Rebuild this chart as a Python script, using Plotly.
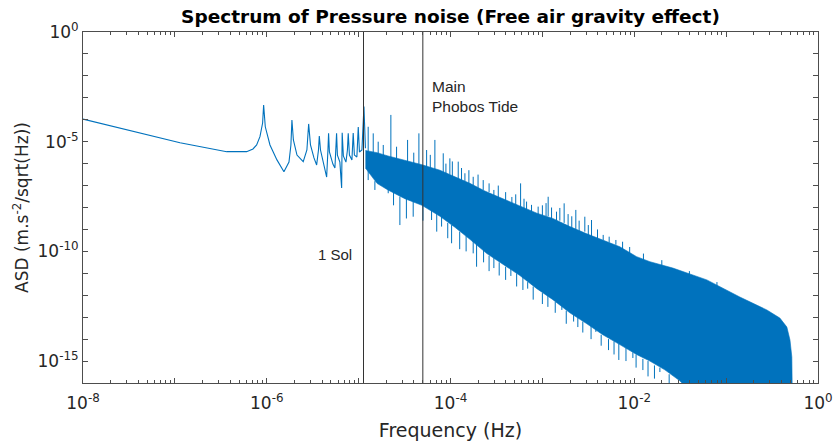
import numpy as np
import plotly.graph_objects as go

# Reference frequencies (Hz)
sol_freq = 1.13e-5
phobos_freq = 5.0e-5

# Low-frequency part of the spectrum (log10 Hz, log10 ASD)
lf_log_f = [-8.0, -7.489, -6.944, -6.436, -6.219, -6.150, -6.110, -6.074, -6.045, -6.034,
            -6.016, -5.965, -5.889, -5.813, -5.758, -5.737, -5.726, -5.710, -5.671, -5.603,
            -5.563, -5.544, -5.524, -5.486, -5.457, -5.437, -5.428, -5.415, -5.378, -5.348,
            -5.334, -5.327, -5.318, -5.280, -5.258, -5.247, -5.240, -5.231, -5.204, -5.185,
            -5.179, -5.166, -5.138, -5.122, -5.113, -5.100, -5.073, -5.059, -5.046, -5.019,
            -5.004, -4.991, -4.964, -4.942, -4.926]
lf_log_asd = [-3.97, -4.50, -5.05, -5.455, -5.455, -5.33, -5.15, -4.77, -4.15, -3.33,
              -4.32, -5.15, -5.83, -6.37, -5.93, -5.15, -4.01, -4.92, -5.61, -5.91,
              -5.38, -4.19, -5.15, -5.74, -6.06, -5.38, -4.74, -5.38, -6.06, -6.61,
              -5.38, -4.62, -5.47, -6.02, -6.20, -5.38, -4.62, -5.61, -5.93, -7.11,
              -4.59, -5.65, -5.93, -5.38, -4.62, -5.61, -5.83, -4.60, -5.61, -5.70,
              -4.33, -5.47, -5.38, -3.40, -5.30]

# Noise band core envelope (log10 Hz, log10 ASD)
band_log_f_up = [-4.926, -4.800, -4.681, -4.496, -4.311, -4.115, -3.952, -3.789, -3.626, -3.430,
                 -3.245, -3.060, -2.886, -2.701, -2.516, -2.342, -2.157, -1.975, -1.830, -1.580,
                 -1.210, -0.851, -0.557, -0.415, -0.339, -0.305, -0.285, -0.280]
band_up = [-5.40, -5.50, -5.65, -5.85, -6.05, -6.30, -6.60, -6.90, -7.25, -7.60,
           -7.95, -8.26, -8.50, -8.87, -9.20, -9.48, -9.79, -10.24, -10.47, -10.76,
           -11.30, -12.08, -12.67, -13.04, -13.45, -14.04, -14.81, -16.5]
band_log_f_lo = [-4.926, -4.800, -4.681, -4.496, -4.311, -4.115, -3.952, -3.789, -3.604, -3.430,
                 -3.245, -3.060, -2.886, -2.701, -2.516, -2.342, -2.157, -1.975, -1.830, -1.667,
                 -1.504, -1.362, -0.280]
band_lo = [-6.20, -6.90, -7.20, -7.60, -7.90, -8.40, -8.90, -9.45, -10.10, -10.60,
           -11.10, -11.70, -12.20, -12.80, -13.30, -13.80, -14.25, -14.70, -15.00, -15.40,
           -15.90, -16.5, -16.5]

# Upward spikes (log10 Hz, tip, base)
up_spk_log_f = [-4.896, -4.841, -4.787, -4.732, -4.649, -4.587, -4.467, -4.400, -4.344, -4.260,
                -4.220, -4.170, -4.079, -4.050, -4.007, -3.980, -3.916, -3.880, -3.843, -3.800,
                -3.753, -3.700, -3.644, -3.580, -3.528, -3.480, -3.400, -3.332, -3.290, -3.237,
                -3.200, -3.172, -3.118, -3.046, -3.000, -2.960, -2.937, -2.900, -2.846, -2.810,
                -2.763, -2.720, -2.680, -2.636, -2.600, -2.538, -2.500, -2.465, -2.400, -2.338,
                -2.273, -2.200, -2.127, -2.050, -1.900, -1.700, -1.400, -1.100]
up_spk_tip = [-4.32, -4.62, -5.00, -5.15, -3.78, -5.23, -4.92, -5.50, -4.62, -5.38,
              -5.60, -4.92, -5.53, -6.00, -5.76, -5.90, -5.91, -6.20, -6.44, -6.30,
              -6.60, -6.50, -6.75, -6.90, -7.20, -7.00, -7.30, -7.52, -7.40, -6.90,
              -7.60, -7.73, -7.88, -7.96, -7.90, -7.80, -7.51, -8.00, -8.19, -8.02,
              -7.81, -8.30, -8.40, -8.11, -8.60, -8.42, -8.80, -8.57, -9.00, -9.25,
              -9.33, -9.48, -9.56, -9.80, -10.10, -10.40, -10.90, -11.40]
up_spk_base = [-5.5, -5.5, -5.6, -5.7, -5.8, -5.9, -6.0, -6.0, -6.1, -6.2,
               -6.2, -6.3, -6.4, -6.5, -6.5, -6.6, -6.7, -6.8, -6.8, -6.9,
               -7.0, -7.1, -7.2, -7.3, -7.5, -7.6, -7.8, -7.9, -8.0, -8.0,
               -8.1, -8.1, -8.2, -8.3, -8.4, -8.4, -8.4, -8.6, -8.6, -8.6,
               -8.7, -8.9, -9.0, -9.0, -9.1, -9.1, -9.3, -9.3, -9.5, -9.5,
               -9.6, -9.7, -9.9, -10.1, -10.45, -10.7, -11.1, -11.6]

# Downward spikes (log10 Hz, bottom, base)
dn_spk_log_f = [-4.896, -4.823, -4.678, -4.620, -4.551, -4.480, -4.406, -4.300, -4.206, -4.150,
                -4.097, -4.030, -3.988, -3.900, -3.830, -3.753, -3.716, -3.640, -3.580, -3.528,
                -3.470, -3.400, -3.343, -3.280, -3.212, -3.160, -3.100, -3.000, -2.940, -2.860,
                -2.788, -2.740, -2.660, -2.614, -2.560, -2.470, -2.418, -2.360, -2.280, -2.220,
                -2.168, -2.090, -2.015, -1.980, -1.906, -1.850, -1.780, -1.721, -1.620]
dn_spk_bot = [-6.75, -7.20, -7.35, -7.90, -8.80, -8.50, -8.42, -8.60, -8.57, -9.10,
              -8.87, -9.40, -9.63, -9.90, -10.00, -10.09, -10.70, -10.50, -10.90, -10.76,
              -11.10, -11.30, -11.12, -11.60, -11.76, -11.70, -12.20, -12.40, -12.53, -12.80,
              -12.67, -13.30, -13.20, -13.45, -13.70, -14.00, -13.67, -14.30, -14.50, -14.70,
              -14.95, -15.00, -14.86, -15.30, -15.41, -15.70, -15.80, -15.50, -16.20]
dn_spk_base = [-6.3, -6.8, -7.1, -7.3, -7.5, -7.6, -7.7, -7.9, -8.1, -8.3,
               -8.4, -8.7, -8.8, -9.1, -9.3, -9.5, -9.6, -9.9, -10.2, -10.3,
               -10.5, -10.7, -10.8, -11.0, -11.1, -11.4, -11.6, -11.9, -12.0, -12.3,
               -12.5, -12.7, -12.9, -13.0, -13.2, -13.4, -13.5, -13.8, -14.0, -14.1,
               -14.2, -14.4, -14.6, -14.7, -14.9, -15.0, -15.2, -15.3, -15.6]

# Axis ticks
x_tick_exp = list(range(-8, 1))
y_tick_exp = list(range(-16, 1))

BLUE = "#0072BD"
AXC = "#4d4d4d"
TXT = "#262626"


def p10(a):
    return [10.0 ** v for v in a]


fig = go.Figure()

# noise band
fig.add_trace(go.Scatter(x=p10(band_log_f_up + band_log_f_lo[::-1]), y=p10(band_up + band_lo[::-1]),
                         mode="lines", fill="toself", fillcolor=BLUE,
                         line=dict(color=BLUE, width=0.6), hoverinfo="skip", showlegend=False))

# spikes as thin vertical segments
sx, sy = [], []
for f, t, b in zip(up_spk_log_f, up_spk_tip, up_spk_base):
    sx += [10 ** f, 10 ** f, None]
    sy += [10 ** b, 10 ** t, None]
for f, t, b in zip(dn_spk_log_f, dn_spk_bot, dn_spk_base):
    sx += [10 ** f, 10 ** f, None]
    sy += [10 ** b, 10 ** t, None]
fig.add_trace(go.Scatter(x=sx, y=sy, mode="lines", line=dict(color=BLUE, width=1),
                         hoverinfo="skip", showlegend=False, connectgaps=False))

# low-frequency line
fig.add_trace(go.Scatter(x=p10(lf_log_f), y=p10(lf_log_asd), mode="lines",
                         line=dict(color=BLUE, width=1.1), showlegend=False))

# vertical marker lines
for f in (sol_freq, phobos_freq):
    fig.add_trace(go.Scatter(x=[f, f], y=[1e-17, 10], mode="lines",
                             line=dict(color="#333333", width=1), showlegend=False,
                             hoverinfo="skip"))


def sup_label(e):
    return "10<sup>%d</sup>" % e


x_ticktext = [sup_label(e) if e % 2 == 0 else "" for e in x_tick_exp]
y_ticktext = [sup_label(e) if e % 5 == 0 else "" for e in y_tick_exp]
minor_x = [k * 10.0 ** e for e in range(-8, 0) for k in range(2, 10)]

fig.update_xaxes(type="log", range=[-8, 0], automargin=False,
                 tickvals=p10(x_tick_exp), ticktext=x_ticktext,
                 ticks="inside", ticklen=5, tickcolor=AXC, tickwidth=1, ticklabelstandoff=5,
                 minor=dict(tickvals=minor_x, ticks="inside", ticklen=3, tickcolor=AXC, showgrid=False),
                 showline=True, linecolor=AXC, linewidth=1, mirror="ticks",
                 showgrid=False, zeroline=False,
                 tickfont=dict(family="DejaVu Sans", size=17, color=TXT),
                 title=dict(text="Frequency (Hz)", font=dict(family="DejaVu Sans", size=19, color=TXT),
                            standoff=11))
fig.update_yaxes(type="log", range=[-16, 0], automargin=False,
                 tickvals=p10(y_tick_exp), ticktext=y_ticktext,
                 ticks="inside", ticklen=5, tickcolor=AXC, tickwidth=1,
                 showline=True, linecolor=AXC, linewidth=1, mirror="ticks",
                 showgrid=False, zeroline=False,
                 tickfont=dict(family="DejaVu Sans", size=17, color=TXT),
                 title=dict(text="ASD (m.s<sup>-2</sup>/sqrt(Hz))",
                            font=dict(family="DejaVu Sans", size=17, color=TXT), standoff=4))

fig.add_annotation(x=np.log10(sol_freq), y=-10.16, xref="x", yref="y",
                   text="1 Sol", showarrow=False, xanchor="right", yanchor="middle", xshift=-10,
                   font=dict(family="Liberation Sans", size=15, color=TXT))
fig.add_annotation(x=np.log10(phobos_freq), y=-2.96, xref="x", yref="y",
                   text="Main<br>Phobos Tide", showarrow=False, xanchor="left", yanchor="middle",
                   align="left", xshift=7,
                   font=dict(family="Liberation Sans", size=15.5, color=TXT))

fig.update_layout(
    width=836, height=442,
    margin=dict(l=83, r=18, t=32, b=59),
    paper_bgcolor="white", plot_bgcolor="white",
    title=dict(text="<b>Spectrum of Pressure noise (Free air gravity effect)</b>",
               x=(83 + 818) / 2 / 836, xanchor="center", y=1 - 17 / 442, yanchor="middle",
               font=dict(family="DejaVu Sans", size=18.5, color="black")),
    showlegend=False,
)

fig.write_html("out.html")
